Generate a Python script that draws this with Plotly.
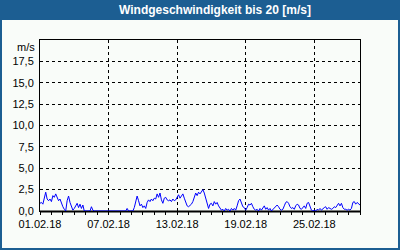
import plotly.graph_objects as go
import pandas as pd

# 3-hourly wind speed values [m/s], 8 per day, 01.02.2018 - 01.03.2018
day_values = [
    [0.9, 1.0, 0.8, 1.5, 2.2, 1.4, 1.2, 1.4],
    [1.1, 1.8, 1.6, 2.0, 1.5, 1.2, 1.4, 0.9],
    [0.5, 0.2, 0.0, 1.2, 1.75, 1.0, 0.5, 0.1],
    [0.3, 0.7, 0.9, 0.4, 0.8, 0.3, 0.7, 0.0],
    [0.0, 0.0, 0.0, 0.0, 0.5, 0.1, 0.0, 0.0],
    [0.0, 0.0, 0.0, 0.0, 0.0, 0.0, 0.0, 0.0],
    [0.0, 0.0, 0.0, 0.0, 0.0, 0.0, 0.0, 0.0],
    [0.0, 0.0, 0.0, 0.0, 0.0, 0.3, 0.0, 0.0],
    [0.0, 0.0, 0.4, 1.2, 1.75, 1.2, 0.6, 0.8],
    [0.4, 0.6, 0.3, 1.0, 1.3, 1.1, 1.4, 1.2],
    [1.5, 1.4, 2.0, 1.6, 2.1, 1.3, 0.9, 1.5],
    [1.6, 1.3, 1.2, 1.3, 1.1, 1.4, 1.2, 1.3],
    [1.7, 1.9, 1.5, 1.8, 2.0, 1.5, 1.0, 0.6],
    [0.5, 0.6, 0.8, 1.1, 1.6, 2.1, 1.8, 2.2],
    [2.0, 2.3, 2.5, 2.1, 1.5, 1.0, 0.3, 0.8],
    [0.9, 0.6, 1.1, 0.8, 1.0, 0.6, 0.3, 0.1],
    [0.2, 0.0, 0.3, 0.1, 0.2, 0.0, 0.3, 0.1],
    [0.3, 0.1, 0.6, 1.2, 1.4, 1.0, 0.5, 0.4],
    [0.1, 0.4, 0.8, 0.7, 0.9, 0.5, 0.2, 0.1],
    [0.2, 0.0, 0.3, 0.1, 0.4, 0.6, 0.2, 0.4],
    [0.1, 0.3, 0.0, 0.2, 0.3, 0.6, 0.7, 0.5],
    [0.2, 0.1, 0.2, 0.6, 1.0, 1.1, 0.9, 0.5],
    [0.3, 0.4, 0.2, 0.6, 0.8, 0.7, 0.3, 0.2],
    [0.4, 0.6, 0.3, 0.9, 1.0, 0.4, 0.1, 0.0],
    [0.1, 0.0, 0.2, 0.1, 0.3, 0.1, 0.3, 0.4],
    [0.5, 0.2, 0.4, 0.3, 0.2, 0.3, 0.5, 0.4],
    [0.7, 0.9, 0.6, 0.9, 0.4, 0.2, 0.2, 0.1],
    [0.2, 0.1, 0.3, 1.0, 1.1, 0.8, 1.0, 0.8],
]
last_value = [0.7]
wind = [v for day in day_values for v in day] + last_value
times = pd.date_range("2018-02-01 00:00", periods=len(wind), freq="3h")

x_tickvals = ["2018-02-01", "2018-02-07", "2018-02-13", "2018-02-19", "2018-02-25"]
x_ticktext = ["01.02.18", "07.02.18", "13.02.18", "19.02.18", "25.02.18"]
y_tickvals = [0, 2.5, 5, 7.5, 10, 12.5, 15, 17.5]
y_ticktext = ["0,0", "2,5", "5,0", "7,5", "10,0", "12,5", "15,0", "17,5"]
title_text = "Windgeschwindigkeit bis 20 [m/s]"
unit_text = "m/s"

BG = "#f9fcf9"
FRAME_BLUE = "#1c5e92"
FONT = "Liberation Sans"

fig = go.Figure()
fig.add_trace(go.Scatter(x=times, y=wind, mode="lines",
                         line=dict(color="#0000ff", width=1), hoverinfo="skip"))

W, H = 400, 250
L, R, T, B = 40, 40, 40, 39
pw, ph = W - L - R, H - T - B

def px(xp):
    return (xp - L) / pw

def py(yp):
    return (H - B - yp) / ph

shapes = [
    # title bar
    dict(type="rect", xref="paper", yref="paper", x0=px(0), x1=px(W), y0=py(20), y1=py(0),
         fillcolor=FRAME_BLUE, line=dict(width=0), layer="above"),
    # left border
    dict(type="rect", xref="paper", yref="paper", x0=px(0), x1=px(2), y0=py(H), y1=py(0),
         fillcolor=FRAME_BLUE, line=dict(width=0), layer="above"),
    # right border
    dict(type="rect", xref="paper", yref="paper", x0=px(W - 2), x1=px(W), y0=py(H), y1=py(0),
         fillcolor=FRAME_BLUE, line=dict(width=0), layer="above"),
    # bottom border
    dict(type="rect", xref="paper", yref="paper", x0=px(0), x1=px(W), y0=py(H), y1=py(H - 2),
         fillcolor=FRAME_BLUE, line=dict(width=0), layer="above"),
    # heavier base line (drawn beneath the data line)
    dict(type="line", xref="paper", yref="paper", x0=0, x1=1, y0=-0.003, y1=-0.003,
         line=dict(color="#000000", width=2), layer="below"),
]

fig.update_layout(
    width=W, height=H,
    margin=dict(l=L, r=R, t=T, b=B, pad=0),
    paper_bgcolor=BG, plot_bgcolor=BG,
    showlegend=False,
    separators=",.",
    font=dict(family=FONT, size=11, color="#000000"),
    shapes=shapes,
    annotations=[
        dict(text="<b>" + title_text + "</b>", xref="paper", yref="paper",
             x=px(215), y=py(10), xanchor="center", yanchor="middle", showarrow=False,
             font=dict(family=FONT, size=12, color="#ffffff")),
        dict(text=unit_text, xref="paper", yref="paper",
             x=px(37), y=py(47), xanchor="right", yanchor="middle", showarrow=False,
             font=dict(family=FONT, size=11, color="#000000")),
    ],
)

fig.update_xaxes(
    type="date",
    range=["2018-02-01 00:00", "2018-03-01 00:00"],
    tickvals=x_tickvals, ticktext=x_ticktext,
    showgrid=True, gridcolor="#000000", gridwidth=1, griddash="3px,3px",
    showline=True, linecolor="#000000", linewidth=1, mirror=True,
    ticks="outside", ticklen=3, tickcolor="#000000",
    minor=dict(dtick=86400000, tick0="2018-02-01", ticks="outside", ticklen=3,
               tickcolor="#000000", showgrid=False),
    zeroline=False, fixedrange=True,
)
fig.update_yaxes(
    range=[0, 20],
    tickvals=y_tickvals, ticktext=y_ticktext,
    showgrid=True, gridcolor="#000000", gridwidth=1, griddash="3px,3px",
    showline=True, linecolor="#000000", linewidth=1, mirror=True,
    ticks="", ticklabelstandoff=3,
    zeroline=False, fixedrange=True,
)

fig.write_html("out.html", config=dict(displayModeBar=False))
